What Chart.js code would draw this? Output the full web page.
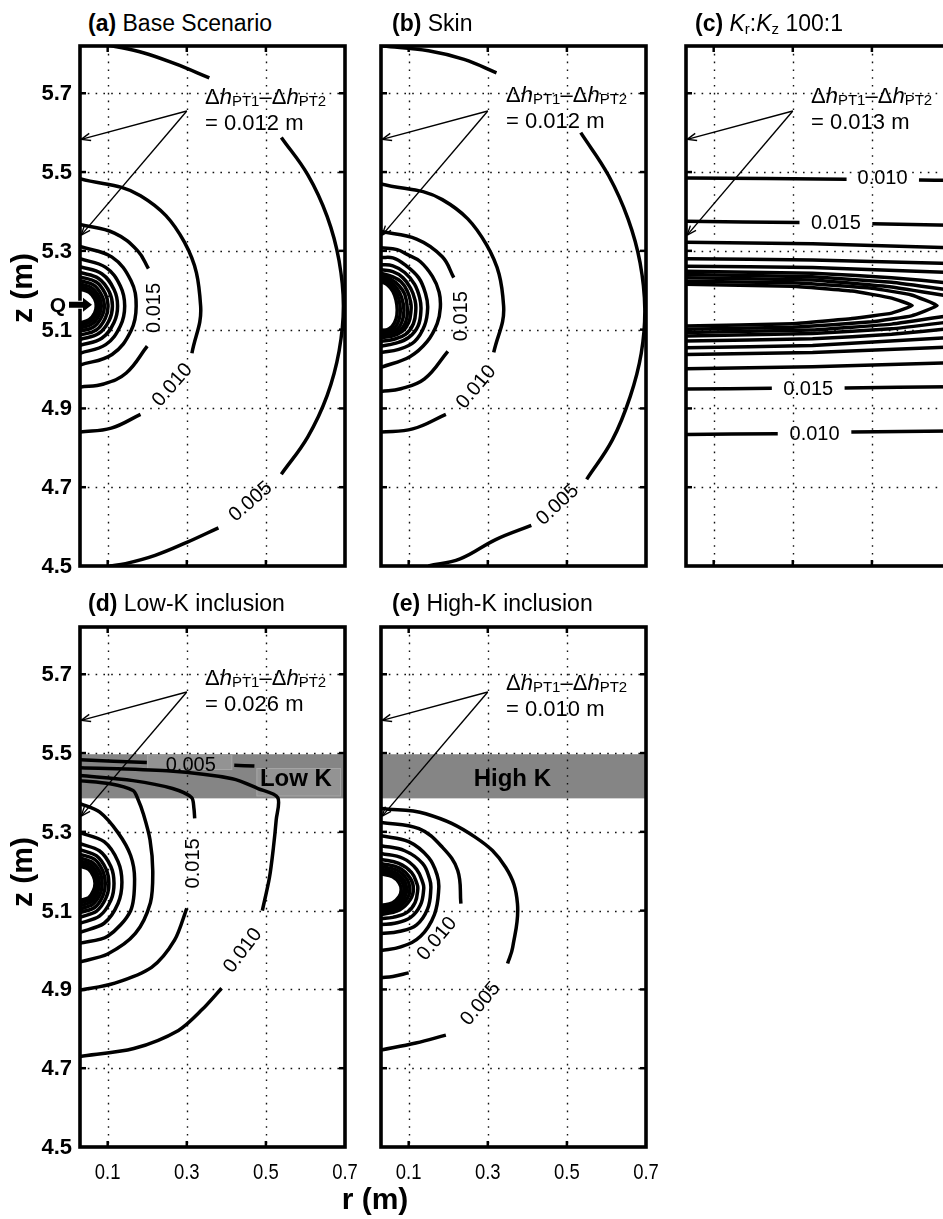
<!DOCTYPE html>
<html>
<head>
<meta charset="utf-8">
<script src="https://cdn.jsdelivr.net/npm/chart.js@4.4.1/dist/chart.umd.min.js"></script>
<style>
html, body { margin: 0; padding: 0; background: #fff; overflow: hidden; }
body { width: 943px; height: 1219px; position: relative; font-family: "Liberation Sans", Arial, Helvetica, sans-serif; color: #000; }
canvas { position: absolute; }
.t { position: absolute; font-size: 23px; line-height: 23px; white-space: nowrap; z-index: 2; }
.t sub { font-size: 15px; vertical-align: -3px; line-height: 0; }
.ann { position: absolute; font-size: 22px; line-height: 22px; white-space: nowrap; z-index: 2; }
.ann .sb { font-size: 15px; vertical-align: -2px; }
.ax { position: absolute; font-size: 30px; font-weight: bold; white-space: nowrap; line-height: 1; z-index: 2; }
</style>
</head>
<body>
<div class="t" style="left:88px;top:12px"><b>(a)</b> Base Scenario</div>
<div class="t" style="left:392px;top:12px"><b>(b)</b> Skin</div>
<div class="t" style="left:695px;top:12px"><b>(c)</b> <i>K</i><sub>r</sub>:<i>K</i><sub>z</sub> 100:1</div>
<div class="t" style="left:88px;top:592px"><b>(d)</b> Low-K inclusion</div>
<div class="t" style="left:392px;top:592px"><b>(e)</b> High-K inclusion</div>
<div class="ax" style="left:22px;top:288px;transform:translate(-50%,-50%) rotate(-90deg)">z (m)</div>
<div class="ax" style="left:22px;top:872px;transform:translate(-50%,-50%) rotate(-90deg)">z (m)</div>
<div class="ax" style="left:375px;top:1199px;transform:translate(-50%,-50%)">r (m)</div>
<script>
// axes
const rTicks = [0.1, 0.3, 0.5, 0.7];
const zTicks = [4.5, 4.7, 4.9, 5.1, 5.3, 5.5, 5.7];
const rRange = [0.03, 0.7];
const zRange = [4.5, 5.82];

// Δh_PT1 - Δh_PT2 for each scenario
const dhValues = ['0.012', '0.012', '0.013', '0.026', '0.010'];
// piezometer arrows: from text to the two ports on the well
const arrowFrom = [0.30, 5.655];
const arrowTo = [[0.033, 5.583], [0.033, 5.34]];
// inclusion layer (d, e)
const layerZ = [5.385, 5.497];

// contour segments [r, z]
const baseLines = [
  [[0.105,5.822],[0.19,5.803],[0.27,5.775],[0.357,5.739]],
  [[0.539,5.588],[0.606,5.493],[0.655,5.387],[0.685,5.275],[0.696,5.16],[0.685,5.045],[0.655,4.933],[0.606,4.828],[0.539,4.733]],
  [[0.38,4.597],[0.30,4.56],[0.22,4.527],[0.145,4.506],[0.105,4.5]],
  [[0.03,5.483],[0.183,5.44],[0.294,5.322],[0.335,5.16],[0.313,5.04]],
  [[0.183,4.885],[0.109,4.85],[0.03,4.84]],
  [[0.03,5.367],[0.117,5.345],[0.176,5.3],[0.203,5.255]],
  [[0.2,5.058],[0.147,4.99],[0.09,4.962],[0.03,4.954]],
  [[0.03,5.311],[0.111,5.284],[0.159,5.224],[0.172,5.16],[0.159,5.097],[0.111,5.037],[0.03,5.01]],
  [[0.03,5.28],[0.095,5.258],[0.132,5.211],[0.143,5.16],[0.132,5.109],[0.095,5.062],[0.03,5.04]],
  [[0.03,5.26],[0.085,5.242],[0.116,5.202],[0.125,5.16],[0.116,5.118],[0.085,5.078],[0.03,5.06]],
  [[0.03,5.245],[0.077,5.23],[0.104,5.196],[0.112,5.16],[0.104,5.124],[0.077,5.09],[0.03,5.075]],
  [[0.03,5.234],[0.071,5.221],[0.094,5.191],[0.101,5.16],[0.094,5.129],[0.071,5.099],[0.03,5.086]],
  [[0.03,5.224],[0.065,5.213],[0.085,5.187],[0.092,5.16],[0.085,5.133],[0.065,5.107],[0.03,5.096]],
  [[0.03,5.216],[0.06,5.206],[0.078,5.184],[0.084,5.16],[0.078,5.136],[0.06,5.114],[0.03,5.104]],
  [[0.03,5.209],[0.056,5.2],[0.072,5.181],[0.077,5.16],[0.072,5.139],[0.056,5.12],[0.03,5.111]],
  [[0.03,5.203],[0.053,5.195],[0.067,5.178],[0.071,5.16],[0.067,5.142],[0.053,5.125],[0.03,5.117]]
];
const baseLabels = [[0.46,4.665,'0.005',-41],[0.262,4.961,'0.010',-49],[0.217,5.155,'0.015',-90]];

const skinLines = [
  [[0.035,5.82],[0.15,5.808],[0.24,5.786],[0.322,5.752]],
  [[0.535,5.6],[0.606,5.49],[0.655,5.38],[0.685,5.27],[0.697,5.153],[0.688,5.04],[0.66,4.93],[0.615,4.82],[0.55,4.72]],
  [[0.41,4.603],[0.32,4.567],[0.23,4.518],[0.15,4.5]],
  [[0.03,5.47],[0.185,5.43],[0.297,5.315],[0.34,5.16],[0.315,5.042]],
  [[0.194,4.885],[0.11,4.848],[0.03,4.84]],
  [[0.03,5.349],[0.12,5.33],[0.185,5.285],[0.214,5.232]],
  [[0.199,5.045],[0.14,4.975],[0.08,4.95],[0.03,4.943]],
  [[0.03,5.308],[0.071,5.303],[0.096,5.291],[0.129,5.273],[0.16,5.235],[0.177,5.195],[0.18,5.155],[0.172,5.115],[0.147,5.07],[0.104,5.032],[0.03,5.004]],
  [[0.03,5.283],[0.06,5.282],[0.09,5.265],[0.125,5.232],[0.143,5.19],[0.148,5.155],[0.14,5.11],[0.115,5.07],[0.075,5.05],[0.03,5.042]],
  [[0.03,5.265],[0.06,5.262],[0.09,5.245],[0.115,5.215],[0.128,5.18],[0.131,5.15],[0.124,5.11],[0.1,5.08],[0.065,5.065],[0.03,5.058]],
  [[0.03,5.252],[0.06,5.247],[0.085,5.232],[0.105,5.205],[0.116,5.175],[0.118,5.15],[0.112,5.115],[0.092,5.088],[0.06,5.075],[0.03,5.07]],
  [[0.03,5.243],[0.055,5.236],[0.08,5.222],[0.097,5.197],[0.105,5.17],[0.106,5.15],[0.1,5.118],[0.083,5.095],[0.055,5.083],[0.03,5.08]],
  [[0.03,5.236],[0.055,5.228],[0.075,5.212],[0.09,5.19],[0.097,5.15],[0.092,5.118],[0.077,5.098],[0.05,5.087],[0.03,5.085]],
  [[0.03,5.23],[0.052,5.222],[0.07,5.205],[0.082,5.182],[0.088,5.15],[0.083,5.12],[0.07,5.1],[0.048,5.09],[0.03,5.088]],
  [[0.03,5.226],[0.05,5.217],[0.065,5.2],[0.075,5.178],[0.079,5.15],[0.075,5.123],[0.064,5.104],[0.045,5.094],[0.03,5.092]],
  [[0.03,5.222],[0.047,5.213],[0.06,5.197],[0.068,5.175],[0.071,5.15],[0.068,5.127],[0.058,5.108],[0.043,5.098],[0.03,5.096]]
];
const skinLabels = [[0.475,4.657,'0.005',-43],[0.269,4.956,'0.010',-50],[0.232,5.134,'0.015',-90]];

const anisoLines = [
  [[0.03,5.485],[0.436,5.482]], [[0.619,5.48],[0.7,5.479]],
  [[0.03,5.375],[0.317,5.372]], [[0.501,5.369],[0.7,5.365]],
  [[0.03,5.322],[0.35,5.318],[0.7,5.308]],
  [[0.03,5.28],[0.35,5.277],[0.7,5.268]],
  [[0.03,5.261],[0.35,5.258],[0.7,5.245]],
  [[0.03,5.248],[0.35,5.243],[0.55,5.232],[0.7,5.218]],
  [[0.03,5.24],[0.35,5.234],[0.55,5.22],[0.7,5.2]],
  [[0.03,5.232],[0.35,5.226],[0.55,5.208],[0.7,5.184]],
  [[0.03,5.223],[0.3,5.219],[0.5,5.205],[0.6,5.188],[0.665,5.161],[0.6,5.135],[0.5,5.12],[0.3,5.106],[0.03,5.101]],
  [[0.03,5.215],[0.3,5.21],[0.45,5.198],[0.55,5.18],[0.602,5.161],[0.55,5.142],[0.45,5.128],[0.3,5.115],[0.03,5.109]],
  [[0.03,5.093],[0.35,5.099],[0.55,5.114],[0.7,5.136]],
  [[0.03,5.084],[0.35,5.09],[0.55,5.102],[0.7,5.12]],
  [[0.03,5.071],[0.35,5.077],[0.55,5.088],[0.7,5.103]],
  [[0.03,5.054],[0.35,5.06],[0.7,5.08]],
  [[0.03,5.037],[0.35,5.042],[0.7,5.056]],
  [[0.03,5.001],[0.35,5.006],[0.7,5.016]],
  [[0.03,4.949],[0.247,4.951]], [[0.431,4.952],[0.7,4.955]],
  [[0.03,4.834],[0.262,4.836]], [[0.448,4.84],[0.7,4.843]]
];
const anisoLabels = [[0.527,5.485,'0.010',0],[0.409,5.372,'0.015',0],[0.339,4.951,'0.015',0],[0.355,4.837,'0.010',0]];

const lowKLines = [
  [[0.03,5.483],[0.199,5.476]], [[0.42,5.469],[0.471,5.467]],
  [[0.03,5.463],[0.25,5.455],[0.415,5.435],[0.48,5.41],[0.53,5.387],[0.526,5.33],[0.519,5.26],[0.509,5.184],[0.491,5.1]],
  [[0.388,4.903],[0.34,4.85],[0.279,4.796],[0.166,4.75],[0.03,4.73]],
  [[0.03,5.443],[0.164,5.43],[0.264,5.41],[0.312,5.387],[0.318,5.36],[0.32,5.334]],
  [[0.3,5.106],[0.269,5.025],[0.211,4.956],[0.118,4.916],[0.03,4.898]],
  [[0.03,5.43],[0.106,5.422],[0.164,5.405],[0.176,5.384],[0.19,5.346],[0.207,5.28],[0.214,5.2],[0.208,5.12],[0.17,5.042],[0.1,4.99],[0.03,4.97]],
  [[0.03,5.372],[0.08,5.35],[0.126,5.298],[0.158,5.24],[0.168,5.18],[0.158,5.1],[0.1,5.035],[0.03,5.017]],
  [[0.03,5.298],[0.091,5.275],[0.126,5.225],[0.136,5.172],[0.126,5.118],[0.091,5.068],[0.03,5.045]],
  [[0.03,5.27],[0.079,5.252],[0.108,5.212],[0.116,5.169],[0.108,5.126],[0.079,5.086],[0.03,5.068]],
  [[0.03,5.255],[0.072,5.239],[0.096,5.205],[0.103,5.169],[0.096,5.133],[0.072,5.099],[0.03,5.083]],
  [[0.03,5.243],[0.067,5.23],[0.088,5.2],[0.094,5.169],[0.088,5.138],[0.067,5.108],[0.03,5.095]],
  [[0.03,5.234],[0.062,5.222],[0.081,5.196],[0.086,5.169],[0.081,5.142],[0.062,5.116],[0.03,5.104]],
  [[0.03,5.226],[0.058,5.216],[0.074,5.193],[0.079,5.169],[0.074,5.145],[0.058,5.122],[0.03,5.112]],
  [[0.03,5.219],[0.055,5.21],[0.069,5.19],[0.073,5.169],[0.069,5.148],[0.055,5.128],[0.03,5.12]],
  [[0.03,5.213],[0.052,5.205],[0.064,5.187],[0.068,5.169],[0.064,5.151],[0.052,5.133],[0.03,5.126]]
];
const lowKLabels = [[0.31,5.472,'0.005',0],[0.44,5.0,'0.010',-53],[0.315,5.22,'0.015',-90]];

const highKLines = [
  [[0.03,5.359],[0.143,5.346],[0.269,5.286],[0.345,5.21],[0.375,5.118],[0.363,5.007],[0.35,4.966]],
  [[0.194,4.784],[0.118,4.764],[0.03,4.746]],
  [[0.03,5.324],[0.126,5.308],[0.186,5.26],[0.224,5.202],[0.232,5.118]],
  [[0.1,4.942],[0.06,4.933],[0.03,4.93]],
  [[0.03,5.29],[0.1,5.275],[0.15,5.235],[0.172,5.19],[0.176,5.155],[0.165,5.09],[0.13,5.035],[0.08,5.008],[0.03,4.999]],
  [[0.03,5.265],[0.09,5.252],[0.135,5.22],[0.153,5.18],[0.156,5.155],[0.148,5.105],[0.12,5.064],[0.075,5.047],[0.03,5.042]],
  [[0.03,5.245],[0.085,5.233],[0.12,5.205],[0.136,5.17],[0.138,5.155],[0.13,5.115],[0.105,5.083],[0.065,5.068],[0.03,5.065]],
  [[0.03,5.23],[0.075,5.22],[0.107,5.197],[0.121,5.168],[0.123,5.155],[0.116,5.12],[0.095,5.095],[0.06,5.083],[0.03,5.08]],
  [[0.03,5.22],[0.077,5.208],[0.104,5.182],[0.112,5.155],[0.104,5.128],[0.077,5.102],[0.03,5.09]],
  [[0.03,5.212],[0.072,5.202],[0.096,5.179],[0.103,5.155],[0.096,5.13],[0.072,5.107],[0.03,5.097]],
  [[0.03,5.205],[0.067,5.196],[0.089,5.176],[0.095,5.154],[0.089,5.132],[0.067,5.112],[0.03,5.103]],
  [[0.03,5.199],[0.063,5.191],[0.083,5.173],[0.088,5.154],[0.083,5.135],[0.063,5.117],[0.03,5.108]],
  [[0.03,5.193],[0.059,5.186],[0.076,5.17],[0.081,5.153],[0.076,5.136],[0.059,5.12],[0.03,5.113]]
];
const highKLabels = [[0.28,4.865,'0.005',-50],[0.17,5.03,'0.010',-50]];

const FONT = '"Liberation Sans", Arial, Helvetica, sans-serif';

const panels = [
  { id: 'pa', left: 80, top: 46, lines: baseLines, labels: baseLabels, dh: dhValues[0], annDy: 40, showY: true, showX: false, tension: 0.4, q: true },
  { id: 'pb', left: 381, top: 46, lines: skinLines, labels: skinLabels, dh: dhValues[1], annDy: 38, showY: false, showX: false, tension: 0.4 },
  { id: 'pc', left: 686, top: 46, lines: anisoLines, labels: anisoLabels, dh: dhValues[2], annDy: 39, showY: false, showX: false, tension: 0.1 },
  { id: 'pd', left: 80, top: 627, lines: lowKLines, labels: lowKLabels, dh: dhValues[3], annDy: 40, showY: true, showX: true, tension: 0.3,
    band: 'Low K', bandAt: [0.576, 5.435], boxes: [[0.2, 0.415, 5.457, 5.497], [0.476, 0.69, 5.39, 5.462]] },
  { id: 'pe', left: 381, top: 627, lines: highKLines, labels: highKLabels, dh: dhValues[4], annDy: 45, showY: false, showX: true, tension: 0.4,
    band: 'High K', bandAt: [0.362, 5.437], boxes: [] }
];
const panelById = {};
panels.forEach(p => { panelById[p.id] = p; });

function line(ctx, x0, y0, x1, y1) {
  ctx.beginPath(); ctx.moveTo(x0, y0); ctx.lineTo(x1, y1); ctx.stroke();
}

const decor = {
  id: 'decor',
  beforeDatasetsDraw(chart) {
    const p = panelById[chart.canvas.id];
    const { ctx, chartArea: a, scales: { x, y } } = chart;
    ctx.save();
    if (p.band) {
      const yt = y.getPixelForValue(layerZ[1]), yb = y.getPixelForValue(layerZ[0]);
      ctx.fillStyle = '#858585';
      ctx.fillRect(a.left, yt, a.right - a.left, yb - yt);
      p.boxes.forEach(b => {
        const x0 = x.getPixelForValue(b[0]), x1 = x.getPixelForValue(b[1]);
        const y0 = y.getPixelForValue(b[3]), y1 = y.getPixelForValue(b[2]);
        ctx.fillStyle = '#939393';
        ctx.fillRect(x0, y0, x1 - x0, y1 - y0);
        ctx.strokeStyle = '#a5a5a5'; ctx.lineWidth = 1;
        ctx.strokeRect(x0 + 0.5, y0 + 0.5, x1 - x0 - 1, y1 - y0 - 1);
      });
    }
    // dotted grid
    ctx.strokeStyle = '#111';
    ctx.lineWidth = 1.4;
    ctx.setLineDash([1.6, 6.2]);
    rTicks.slice(0, -1).forEach(v => {
      const px = Math.round(x.getPixelForValue(v)) + 0.5;
      line(ctx, px, a.top, px, a.bottom);
    });
    zTicks.slice(1).forEach(v => {
      const py = Math.round(y.getPixelForValue(v)) + 0.5;
      line(ctx, a.left, py, a.right, py);
    });
    ctx.restore();
  },
  afterDatasetsDraw(chart) {
    const p = panelById[chart.canvas.id];
    const { ctx, chartArea: a, scales: { x, y } } = chart;
    ctx.save();
    // contour labels
    ctx.fillStyle = '#000';
    ctx.font = '20px ' + FONT;
    ctx.textAlign = 'center';
    ctx.textBaseline = 'middle';
    p.labels.forEach(l => {
      ctx.save();
      ctx.translate(x.getPixelForValue(l[0]), y.getPixelForValue(l[1]));
      ctx.rotate(l[3] * Math.PI / 180);
      ctx.fillText(l[2], 0, 1);
      ctx.restore();
    });
    if (p.band) {
      ctx.font = 'bold 24px ' + FONT;
      ctx.fillText(p.band, x.getPixelForValue(p.bandAt[0]), y.getPixelForValue(p.bandAt[1]) + 1);
    }
    // arrows
    ctx.strokeStyle = '#000';
    ctx.lineWidth = 1.4;
    const fx = x.getPixelForValue(arrowFrom[0]), fy = y.getPixelForValue(arrowFrom[1]);
    arrowTo.forEach(t => {
      const tx = x.getPixelForValue(t[0]), ty = y.getPixelForValue(t[1]);
      line(ctx, fx, fy, tx, ty);
      const ang = Math.atan2(ty - fy, tx - fx);
      [0.38, -0.38].forEach(d => {
        line(ctx, tx, ty, tx - 10 * Math.cos(ang + d), ty - 10 * Math.sin(ang + d));
      });
    });
    // frame and inward ticks
    ctx.lineWidth = 2.5;
    rTicks.slice(0, -1).forEach(v => {
      const px = x.getPixelForValue(v);
      line(ctx, px, a.top, px, a.top + 6);
      line(ctx, px, a.bottom, px, a.bottom - 6);
    });
    zTicks.slice(1).forEach(v => {
      const py = y.getPixelForValue(v);
      line(ctx, a.left, py, a.left + 6, py);
      line(ctx, a.right, py, a.right - 6, py);
    });
    ctx.lineWidth = 3.6;
    ctx.strokeRect(a.left, a.top, a.right - a.left, a.bottom - a.top);
    ctx.restore();
  },
  afterDraw(chart) {
    const p = panelById[chart.canvas.id];
    const { ctx, chartArea: a, scales: { x, y } } = chart;
    ctx.save();
    ctx.fillStyle = '#000';
    // tick labels
    if (p.showY) {
      ctx.font = 'bold 22px ' + FONT;
      ctx.textAlign = 'right';
      ctx.textBaseline = 'middle';
      zTicks.forEach(v => ctx.fillText(v.toFixed(1), a.left - 8, y.getPixelForValue(v) + 1));
    }
    if (p.showX) {
      ctx.font = '22px ' + FONT;
      ctx.textAlign = 'center';
      ctx.textBaseline = 'middle';
      rTicks.forEach(v => {
        ctx.save();
        ctx.translate(x.getPixelForValue(v), a.bottom + 26);
        ctx.scale(0.84, 1);
        ctx.fillText(v.toFixed(1), 0, 0);
        ctx.restore();
      });
    }
    if (p.q) {
      const qy = y.getPixelForValue(5.163);
      ctx.font = 'bold 21px ' + FONT;
      ctx.textAlign = 'center';
      ctx.textBaseline = 'middle';
      ctx.fillText('Q', a.left - 22, qy + 1);
      ctx.beginPath();
      ctx.moveTo(a.left - 11, qy - 3);
      ctx.lineTo(a.left + 3, qy - 3);
      ctx.lineTo(a.left + 3, qy - 7);
      ctx.lineTo(a.left + 12, qy);
      ctx.lineTo(a.left + 3, qy + 7);
      ctx.lineTo(a.left + 3, qy + 3);
      ctx.lineTo(a.left - 11, qy + 3);
      ctx.closePath();
      ctx.strokeStyle = '#fff';
      ctx.lineWidth = 2;
      ctx.stroke();
      ctx.fill();
    }
    ctx.restore();
  }
};
Chart.register(decor);

panels.forEach(p => {
  const cv = document.createElement('canvas');
  cv.id = p.id;
  cv.width = 365;
  cv.height = 570;
  cv.style.left = (p.left - 80) + 'px';
  cv.style.top = (p.top - 10) + 'px';
  document.body.appendChild(cv);

  const ann = document.createElement('div');
  ann.className = 'ann';
  ann.style.left = (p.left + 125) + 'px';
  ann.style.top = (p.top + p.annDy) + 'px';
  ann.innerHTML = '\u0394<i>h</i><span class="sb">PT1</span>\u2013\u0394<i>h</i><span class="sb">PT2</span><br>= ' + p.dh + ' m';
  document.body.appendChild(ann);

  new Chart(cv.getContext('2d'), {
    type: 'scatter',
    data: {
      datasets: p.lines.map(seg => ({
        data: seg.map(pt => ({ x: pt[0], y: pt[1] })),
        showLine: true,
        borderColor: '#000',
        backgroundColor: '#000',
        borderWidth: 3.5,
        pointRadius: 0,
        tension: p.tension,
        fill: false
      }))
    },
    options: {
      responsive: false,
      animation: false,
      devicePixelRatio: 1,
      events: [],
      layout: { padding: { left: 80, top: 10, right: 20, bottom: 40 } },
      plugins: { legend: { display: false }, tooltip: { enabled: false } },
      scales: {
        x: { type: 'linear', display: false, min: rRange[0], max: rRange[1] },
        y: { type: 'linear', display: false, min: zRange[0], max: zRange[1] }
      }
    }
  });
});
</script>
</body>
</html>
